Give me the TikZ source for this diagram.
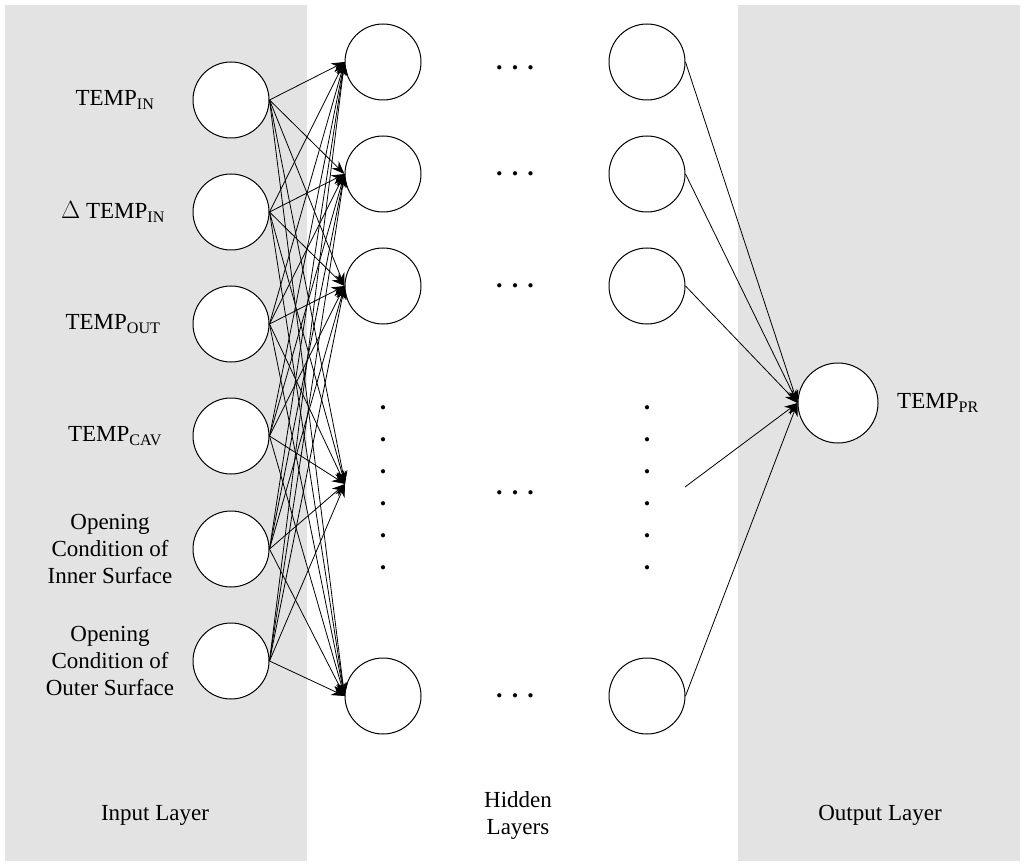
\documentclass[tikz,border=0pt]{standalone}
\usepackage{fontspec}
\setmainfont{Liberation Serif}
\usetikzlibrary{arrows.meta}
\begin{document}
\begin{tikzpicture}[x=1pt,y=-1pt,
  neuron/.style={circle,draw,line width=1pt,minimum size=76pt,inner sep=0pt,fill=white},
  conn/.style={line width=0.8pt,-{Stealth[length=13pt,width=10pt]}},
  lbl/.style={font=\fontsize{23}{27}\selectfont,align=center},
  band/.style={fill=black!11,draw=none}]
\useasboundingbox (0,0) rectangle (1024,866);
\fill[band] (5,5) rectangle (307,861);
\fill[band] (738,5) rectangle (1020,861);
\foreach \i/\y in {1/100,2/212,3/324,4/436,5/549,6/661}
  \node[neuron] (in\i) at (231,\y) {};
\foreach \j/\y in {1/62,2/174,3/286,5/696}
  {\node[neuron] (ha\j) at (383,\y) {};
   \node[neuron] (hb\j) at (647,\y) {};}
\coordinate (ha4) at (345,484);
\coordinate (hb4) at (685,487);
\node[neuron,minimum size=80pt] (out) at (838,403) {};
\foreach \i in {1,...,6}{
  \foreach \j in {1,2,3,5} \draw[conn] (in\i.east) -- (ha\j.west);
  \draw[conn] (in\i.east) -- (ha4);}
\foreach \j in {1,2,3,5} \draw[conn] (hb\j.east) -- (out.west);
\draw[conn] (hb4) -- (out.west);
\foreach \y in {68,174,286,493,696}
  \node[lbl,font=\fontsize{26}{28}\bfseries] (dots\y) at (515,\y) {.\hspace{0.35em}.\hspace{0.35em}.};
\foreach \y in {412,444,476,508,540,572}
  {\node[lbl,font=\fontsize{26}{28}\bfseries] (va\y) at (383,\y-4) {.};
   \node[lbl,font=\fontsize{26}{28}\bfseries] (vb\y) at (647,\y-4) {.};}
\node[lbl] (l1) at (115,100) {TEMP\textsubscript{IN}};
\node[lbl] (l2) at (113,212) {$\Delta$ TEMP\textsubscript{IN}};
\node[lbl] (l3) at (113,324) {TEMP\textsubscript{OUT}};
\node[lbl] (l4) at (115,436) {TEMP\textsubscript{CAV}};
\node[lbl] (l5) at (110,549) {Opening\\Condition of\\Inner Surface};
\node[lbl] (l6) at (110,661) {Opening\\Condition of\\Outer Surface};
\node[lbl] (lo) at (938,403) {TEMP\textsubscript{PR}};
\node[lbl] (L1) at (155,815) {Input Layer};
\node[lbl] (L2) at (518,815) {Hidden\\Layers};
\node[lbl] (L3) at (880,815) {Output Layer};
\end{tikzpicture}
\end{document}
